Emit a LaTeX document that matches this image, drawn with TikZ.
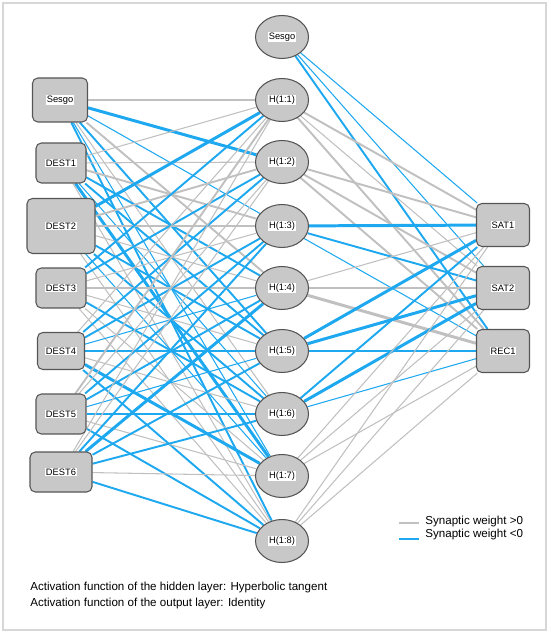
\documentclass[tikz,border=0pt]{standalone}
\usepackage{fontspec}
\setmainfont{Liberation Sans}
\usetikzlibrary{shapes.geometric, positioning}
\definecolor{wpos}{RGB}{192,192,192}
\definecolor{wneg}{RGB}{30,168,240}
\definecolor{unitfill}{RGB}{200,200,200}
\definecolor{unitline}{RGB}{85,85,85}
\definecolor{framegray}{RGB}{215,215,215}
\pgfdeclarelayer{background}
\pgfsetlayers{background,main}
\setlength{\fboxsep}{0.5pt}
\newcommand{\unitlabel}[1]{\colorbox{white}{#1}}
\tikzset{
	unit/.style={draw=unitline, fill=unitfill, line width=0.6pt, rounded corners=3pt, inner sep=0pt, font=\fontsize{5.3}{6}\selectfont},
	hidden/.style={ellipse, draw=unitline, fill=unitfill, line width=0.6pt, inner sep=0pt, minimum width=1.06cm, minimum height=0.86cm, font=\fontsize{5.3}{6}\selectfont},
	note/.style={anchor=west, inner sep=0pt, font=\fontsize{6.6}{7.5}\selectfont},
	poslow/.style={draw=wpos, line width=0.6pt},
	posmid/.style={draw=wpos, line width=1.1pt},
	poshigh/.style={draw=wpos, line width=1.7pt},
	neglow/.style={draw=wneg, line width=0.6pt},
	negmid/.style={draw=wneg, line width=1.1pt},
	neghigh/.style={draw=wneg, line width=1.7pt}
}

\begin{document}
\begin{tikzpicture}[x=0.02cm, y=-0.02cm]
	\useasboundingbox (0,0) rectangle (550,634);
	\draw[framegray, line width=0.8pt] (3,3) rectangle (546,630);

	% input layer
	\node[unit, minimum width=1.1cm, minimum height=0.88cm] (in0) at (60,100) {\unitlabel{Sesgo}};
	\node[unit, minimum width=1.0cm, minimum height=0.8cm] (in1) at (61,163) {\unitlabel{DEST1}};
	\node[unit, minimum width=1.36cm, minimum height=1.1cm] (in2) at (61,226) {\unitlabel{DEST2}};
	\node[unit, minimum width=1.0cm, minimum height=0.8cm] (in3) at (61,288) {\unitlabel{DEST3}};
	\node[unit, minimum width=0.94cm, minimum height=0.74cm] (in4) at (61,351) {\unitlabel{DEST4}};
	\node[unit, minimum width=1.0cm, minimum height=0.8cm] (in5) at (61,414) {\unitlabel{DEST5}};
	\node[unit, minimum width=1.24cm, minimum height=0.8cm] (in6) at (61,472) {\unitlabel{DEST6}};

	% hidden layer
	\node[hidden] (h0) at (282,37) {\unitlabel{Sesgo}};
	\node[hidden] (h1) at (282,100) {\unitlabel{H(1:1)}};
	\node[hidden] (h2) at (282,162) {\unitlabel{H(1:2)}};
	\node[hidden] (h3) at (282,226) {\unitlabel{H(1:3)}};
	\node[hidden] (h4) at (282,288) {\unitlabel{H(1:4)}};
	\node[hidden] (h5) at (282,351) {\unitlabel{H(1:5)}};
	\node[hidden] (h6) at (282,414) {\unitlabel{H(1:6)}};
	\node[hidden] (h7) at (282,476) {\unitlabel{H(1:7)}};
	\node[hidden] (h8) at (282,541) {\unitlabel{H(1:8)}};

	% output layer
	\node[unit, minimum width=1.06cm, minimum height=0.86cm] (out1) at (503,225) {\unitlabel{SAT1}};
	\node[unit, minimum width=1.06cm, minimum height=0.86cm] (out2) at (503,288) {\unitlabel{SAT2}};
	\node[unit, minimum width=1.06cm, minimum height=0.86cm] (out3) at (503,351) {\unitlabel{REC1}};

	% synaptic weights
	\begin{pgfonlayer}{background}
		\foreach \h/\w in {1/poslow, 2/neghigh, 3/neglow, 4/posmid, 5/negmid, 6/poslow, 7/neglow, 8/negmid}
			\draw[\w] (in0) -- (h\h);
		\foreach \h/\w in {1/poslow, 2/poslow, 3/posmid, 4/negmid, 5/negmid, 6/neglow, 7/neghigh, 8/poslow}
			\draw[\w] (in1) -- (h\h);
		\foreach \h/\w in {1/neghigh, 2/posmid, 3/poslow, 4/poslow, 5/negmid, 6/negmid, 7/neglow, 8/poslow}
			\draw[\w] (in2) -- (h\h);
		\foreach \h/\w in {1/negmid, 2/negmid, 3/poslow, 4/posmid, 5/poslow, 6/negmid, 7/poslow, 8/poslow}
			\draw[\w] (in3) -- (h\h);
		\foreach \h/\w in {1/poslow, 2/negmid, 3/negmid, 4/neglow, 5/neglow, 6/poslow, 7/neghigh, 8/negmid}
			\draw[\w] (in4) -- (h\h);
		\foreach \h/\w in {1/posmid, 2/poslow, 3/negmid, 4/negmid, 5/neglow, 6/neglow, 7/poslow, 8/negmid}
			\draw[\w] (in5) -- (h\h);
		\foreach \h/\w in {1/poslow, 2/poslow, 3/negmid, 4/neghigh, 5/negmid, 6/negmid, 7/poslow, 8/negmid}
			\draw[\w] (in6) -- (h\h);

		\foreach \o/\w in {1/neglow, 2/neglow, 3/negmid}
			\draw[\w] (h0) -- (out\o);
		\foreach \o/\w in {1/posmid, 2/poslow, 3/posmid}
			\draw[\w] (h1) -- (out\o);
		\foreach \o/\w in {1/posmid, 2/posmid, 3/posmid}
			\draw[\w] (h2) -- (out\o);
		\foreach \o/\w in {1/neghigh, 2/negmid, 3/neglow}
			\draw[\w] (h3) -- (out\o);
		\foreach \o/\w in {1/poslow, 2/posmid, 3/poshigh}
			\draw[\w] (h4) -- (out\o);
		\foreach \o/\w in {1/neghigh, 2/neghigh, 3/neghigh}
			\draw[\w] (h5) -- (out\o);
		\foreach \o/\w in {1/negmid, 2/neghigh, 3/neglow}
			\draw[\w] (h6) -- (out\o);
		\foreach \o/\w in {1/poslow, 2/poslow, 3/poslow}
			\draw[\w] (h7) -- (out\o);
		\foreach \o/\w in {1/poslow, 2/poslow, 3/poslow}
			\draw[\w] (h8) -- (out\o);
	\end{pgfonlayer}

	% legend
	\draw[wpos, line width=1.7pt] (399,523) -- (419,523);
	\draw[wneg, line width=1.7pt] (399,539) -- (419,539);
	\node[note] (legpos) at (425,521) {Synaptic weight >0};
	\node[note] (legneg) at (425,534) {Synaptic weight <0};

	\node[note] (acthid) at (30,587) {Activation function of the hidden layer: Hyperbolic tangent};
	\node[note] (actout) at (30,603) {Activation function of the output layer: Identity};
\end{tikzpicture}
\end{document}
